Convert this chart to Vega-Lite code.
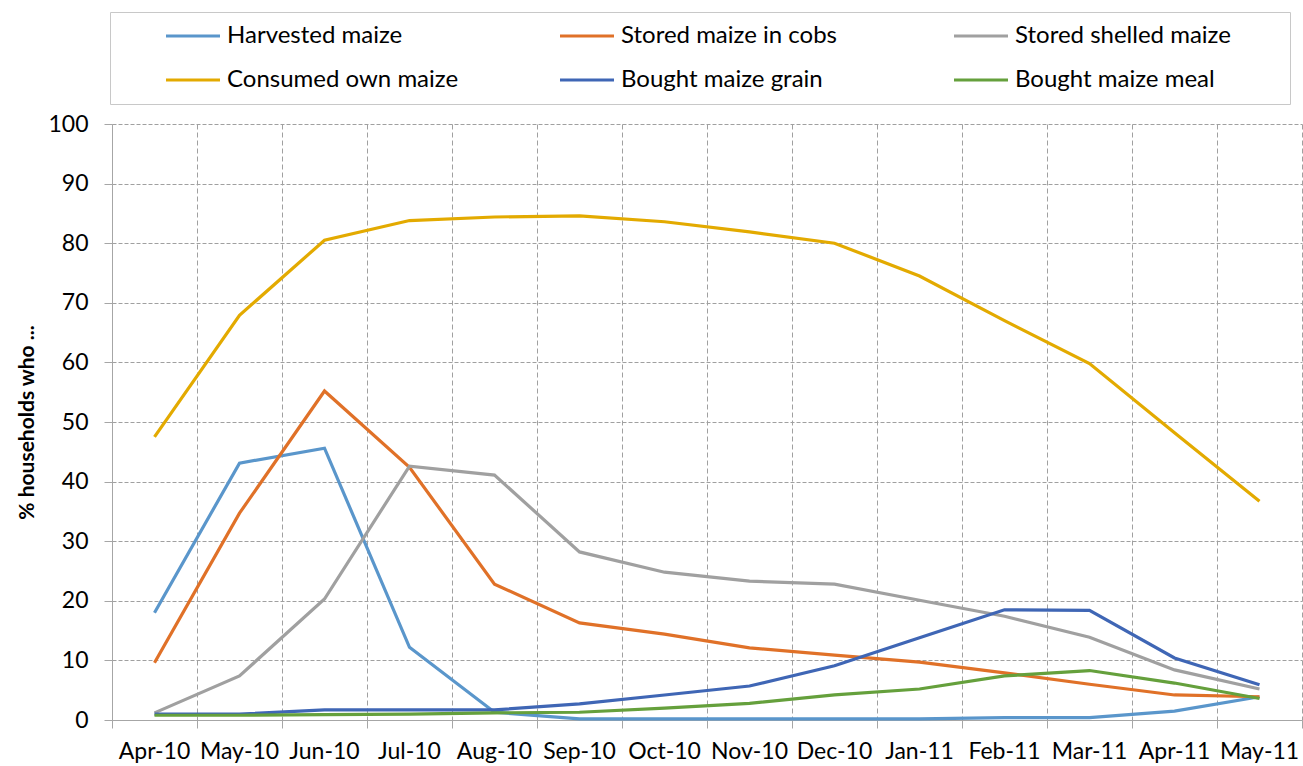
{
  "$schema": "https://vega.github.io/schema/vega-lite/v6.json",
  "autosize": {"type": "none"},
  "padding": {"left": 112, "top": 124, "right": 1, "bottom": 46},
  "width": 1190,
  "height": 596,
  "background": "white",
  "config": {
    "view": {"stroke": null},
    "font": "Lato"
  },
  "data": {
    "values": [
      {"month": "Apr-10", "series": "Harvested maize", "value": 18.0},
      {"month": "May-10", "series": "Harvested maize", "value": 43.1},
      {"month": "Jun-10", "series": "Harvested maize", "value": 45.6},
      {"month": "Jul-10", "series": "Harvested maize", "value": 12.2},
      {"month": "Aug-10", "series": "Harvested maize", "value": 1.3},
      {"month": "Sep-10", "series": "Harvested maize", "value": 0.2},
      {"month": "Oct-10", "series": "Harvested maize", "value": 0.2},
      {"month": "Nov-10", "series": "Harvested maize", "value": 0.2},
      {"month": "Dec-10", "series": "Harvested maize", "value": 0.2},
      {"month": "Jan-11", "series": "Harvested maize", "value": 0.2},
      {"month": "Feb-11", "series": "Harvested maize", "value": 0.4},
      {"month": "Mar-11", "series": "Harvested maize", "value": 0.4},
      {"month": "Apr-11", "series": "Harvested maize", "value": 1.5},
      {"month": "May-11", "series": "Harvested maize", "value": 3.9},

      {"month": "Apr-10", "series": "Stored maize in cobs", "value": 9.6},
      {"month": "May-10", "series": "Stored maize in cobs", "value": 34.7},
      {"month": "Jun-10", "series": "Stored maize in cobs", "value": 55.2},
      {"month": "Jul-10", "series": "Stored maize in cobs", "value": 42.4},
      {"month": "Aug-10", "series": "Stored maize in cobs", "value": 22.8},
      {"month": "Sep-10", "series": "Stored maize in cobs", "value": 16.3},
      {"month": "Oct-10", "series": "Stored maize in cobs", "value": 14.4},
      {"month": "Nov-10", "series": "Stored maize in cobs", "value": 12.1},
      {"month": "Dec-10", "series": "Stored maize in cobs", "value": 10.9},
      {"month": "Jan-11", "series": "Stored maize in cobs", "value": 9.7},
      {"month": "Feb-11", "series": "Stored maize in cobs", "value": 7.9},
      {"month": "Mar-11", "series": "Stored maize in cobs", "value": 6.0},
      {"month": "Apr-11", "series": "Stored maize in cobs", "value": 4.2},
      {"month": "May-11", "series": "Stored maize in cobs", "value": 3.9},

      {"month": "Apr-10", "series": "Stored shelled maize", "value": 1.2},
      {"month": "May-10", "series": "Stored shelled maize", "value": 7.4},
      {"month": "Jun-10", "series": "Stored shelled maize", "value": 20.3},
      {"month": "Jul-10", "series": "Stored shelled maize", "value": 42.6},
      {"month": "Aug-10", "series": "Stored shelled maize", "value": 41.1},
      {"month": "Sep-10", "series": "Stored shelled maize", "value": 28.2},
      {"month": "Oct-10", "series": "Stored shelled maize", "value": 24.8},
      {"month": "Nov-10", "series": "Stored shelled maize", "value": 23.3},
      {"month": "Dec-10", "series": "Stored shelled maize", "value": 22.8},
      {"month": "Jan-11", "series": "Stored shelled maize", "value": 20.1},
      {"month": "Feb-11", "series": "Stored shelled maize", "value": 17.4},
      {"month": "Mar-11", "series": "Stored shelled maize", "value": 13.9},
      {"month": "Apr-11", "series": "Stored shelled maize", "value": 8.4},
      {"month": "May-11", "series": "Stored shelled maize", "value": 5.2},

      {"month": "Apr-10", "series": "Consumed own maize", "value": 47.5},
      {"month": "May-10", "series": "Consumed own maize", "value": 67.9},
      {"month": "Jun-10", "series": "Consumed own maize", "value": 80.5},
      {"month": "Jul-10", "series": "Consumed own maize", "value": 83.8},
      {"month": "Aug-10", "series": "Consumed own maize", "value": 84.4},
      {"month": "Sep-10", "series": "Consumed own maize", "value": 84.6},
      {"month": "Oct-10", "series": "Consumed own maize", "value": 83.6},
      {"month": "Nov-10", "series": "Consumed own maize", "value": 81.9},
      {"month": "Dec-10", "series": "Consumed own maize", "value": 80.0},
      {"month": "Jan-11", "series": "Consumed own maize", "value": 74.5},
      {"month": "Feb-11", "series": "Consumed own maize", "value": 67.0},
      {"month": "Mar-11", "series": "Consumed own maize", "value": 59.8},
      {"month": "Apr-11", "series": "Consumed own maize", "value": 48.2},
      {"month": "May-11", "series": "Consumed own maize", "value": 36.7},

      {"month": "Apr-10", "series": "Bought maize grain", "value": 1.0},
      {"month": "May-10", "series": "Bought maize grain", "value": 1.0},
      {"month": "Jun-10", "series": "Bought maize grain", "value": 1.7},
      {"month": "Jul-10", "series": "Bought maize grain", "value": 1.7},
      {"month": "Aug-10", "series": "Bought maize grain", "value": 1.7},
      {"month": "Sep-10", "series": "Bought maize grain", "value": 2.7},
      {"month": "Oct-10", "series": "Bought maize grain", "value": 4.2},
      {"month": "Nov-10", "series": "Bought maize grain", "value": 5.7},
      {"month": "Dec-10", "series": "Bought maize grain", "value": 9.1},
      {"month": "Jan-11", "series": "Bought maize grain", "value": 13.8},
      {"month": "Feb-11", "series": "Bought maize grain", "value": 18.5},
      {"month": "Mar-11", "series": "Bought maize grain", "value": 18.4},
      {"month": "Apr-11", "series": "Bought maize grain", "value": 10.4},
      {"month": "May-11", "series": "Bought maize grain", "value": 5.9},

      {"month": "Apr-10", "series": "Bought maize meal", "value": 0.8},
      {"month": "May-10", "series": "Bought maize meal", "value": 0.8},
      {"month": "Jun-10", "series": "Bought maize meal", "value": 0.9},
      {"month": "Jul-10", "series": "Bought maize meal", "value": 1.0},
      {"month": "Aug-10", "series": "Bought maize meal", "value": 1.2},
      {"month": "Sep-10", "series": "Bought maize meal", "value": 1.3},
      {"month": "Oct-10", "series": "Bought maize meal", "value": 2.0},
      {"month": "Nov-10", "series": "Bought maize meal", "value": 2.8},
      {"month": "Dec-10", "series": "Bought maize meal", "value": 4.2},
      {"month": "Jan-11", "series": "Bought maize meal", "value": 5.2},
      {"month": "Feb-11", "series": "Bought maize meal", "value": 7.4},
      {"month": "Mar-11", "series": "Bought maize meal", "value": 8.3},
      {"month": "Apr-11", "series": "Bought maize meal", "value": 6.2},
      {"month": "May-11", "series": "Bought maize meal", "value": 3.6}
    ]
  },
  "mark": {"type": "line", "strokeWidth": 3.2, "strokeJoin": "miter", "clip": false},
  "encoding": {
    "x": {
      "field": "month",
      "type": "ordinal",
      "sort": null,
      "bandPosition": 0.5,
      "scale": {"type": "band", "paddingInner": 0, "paddingOuter": 0},
      "axis": {
        "title": null,
        "bandPosition": 1,
        "tickExtra": true,
        "labelAngle": 0,
        "labelOverlap": false,
        "labelFont": "Lato",
        "labelFontSize": 23,
        "labelColor": "#000000",
        "labelPadding": 12,
        "tickSize": 8,
        "tickColor": "#a6a6a6",
        "domainColor": "#a6a6a6",
        "grid": true,
        "gridColor": "#a0a0a0",
        "gridDash": [5, 3],
        "gridWidth": 1
      }
    },
    "y": {
      "field": "value",
      "type": "quantitative",
      "scale": {"domain": [0, 100], "nice": false},
      "axis": {
        "title": "% households who ...",
        "titleFont": "Lato",
        "titleFontSize": 21,
        "titleFontWeight": "bold",
        "titleColor": "#000000",
        "titlePadding": 10,
        "values": [0, 10, 20, 30, 40, 50, 60, 70, 80, 90, 100],
        "labelFont": "Lato",
        "labelFontSize": 23,
        "labelColor": "#000000",
        "labelPadding": 16,
        "tickSize": 8,
        "tickColor": "#a6a6a6",
        "domainColor": "#a6a6a6",
        "grid": true,
        "gridColor": "#a0a0a0",
        "gridDash": [4, 2],
        "gridWidth": 1
      }
    },
    "color": {
      "field": "series",
      "type": "nominal",
      "scale": {
        "domain": ["Harvested maize", "Stored maize in cobs", "Stored shelled maize", "Consumed own maize", "Bought maize grain", "Bought maize meal"],
        "range": ["#5A96CB", "#E07128", "#A0A0A0", "#E3AA00", "#3F66B5", "#65A03C"]
      },
      "legend": {
        "title": "x",
        "titleColor": "#ffffff",
        "titleOrient": "right",
        "titlePadding": 36,
        "titleFontSize": 20,
        "orient": "none",
        "direction": "horizontal",
        "legendX": -2,
        "legendY": -112,
        "columns": 3,
        "gridAlign": "all",
        "columnPadding": 57,
        "rowPadding": 20,
        "padding": 12,
        "strokeColor": "#c8c8c8",
        "symbolType": "stroke",
        "symbolSize": 2916,
        "symbolStrokeWidth": 3.2,
        "symbolOffset": 42,
        "clipHeight": 24,
        "labelFont": "Lato",
        "labelFontSize": 24,
        "labelColor": "#000000",
        "labelOffset": 5,
        "labelLimit": 400
      }
    }
  }
}
